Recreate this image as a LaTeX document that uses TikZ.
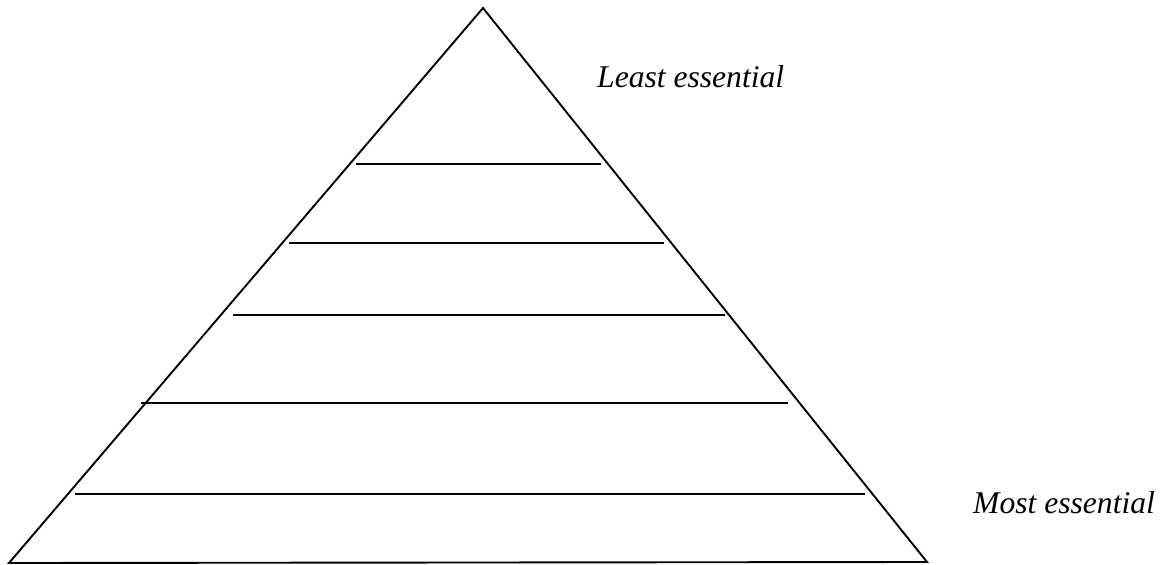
\documentclass[tikz,border=0pt]{standalone}
\usepackage{fontspec}
\setmainfont{Liberation Serif}
\usepackage{tikz}
\usetikzlibrary{positioning}

\tikzset{
  tierline/.style={line width=1.9pt},
  tierlabel/.style={font=\fontsize{31.6}{36}\selectfont\itshape, inner sep=0pt, anchor=base west}
}

\begin{document}
\begin{tikzpicture}[x=1pt, y=-1pt]
  \useasboundingbox (0,0) rectangle (1163,565);
  % pyramid outline
  \coordinate (apex) at (483,8);
  \coordinate (baseleft) at (9,563);
  \coordinate (baseright) at (927,562);
  \draw[tierline, line join=miter] (apex) -- (baseleft) -- (baseright) -- cycle;

  % tier dividers
  \foreach \n/\y/\xa/\xb in {1/164/356/601, 2/243/289/664, 3/315/233/725, 4/403/141/788, 5/494/75/865} {
    \coordinate (tier\n l) at (\xa,\y);
    \coordinate (tier\n r) at (\xb,\y);
    \draw[tierline] (tier\n l) -- (tier\n r);
  }

  % labels
  \node[tierlabel] (least) at (597,87) {Least essential};
  \node[tierlabel] (most) at (973,513) {Most essential};
\end{tikzpicture}
\end{document}
